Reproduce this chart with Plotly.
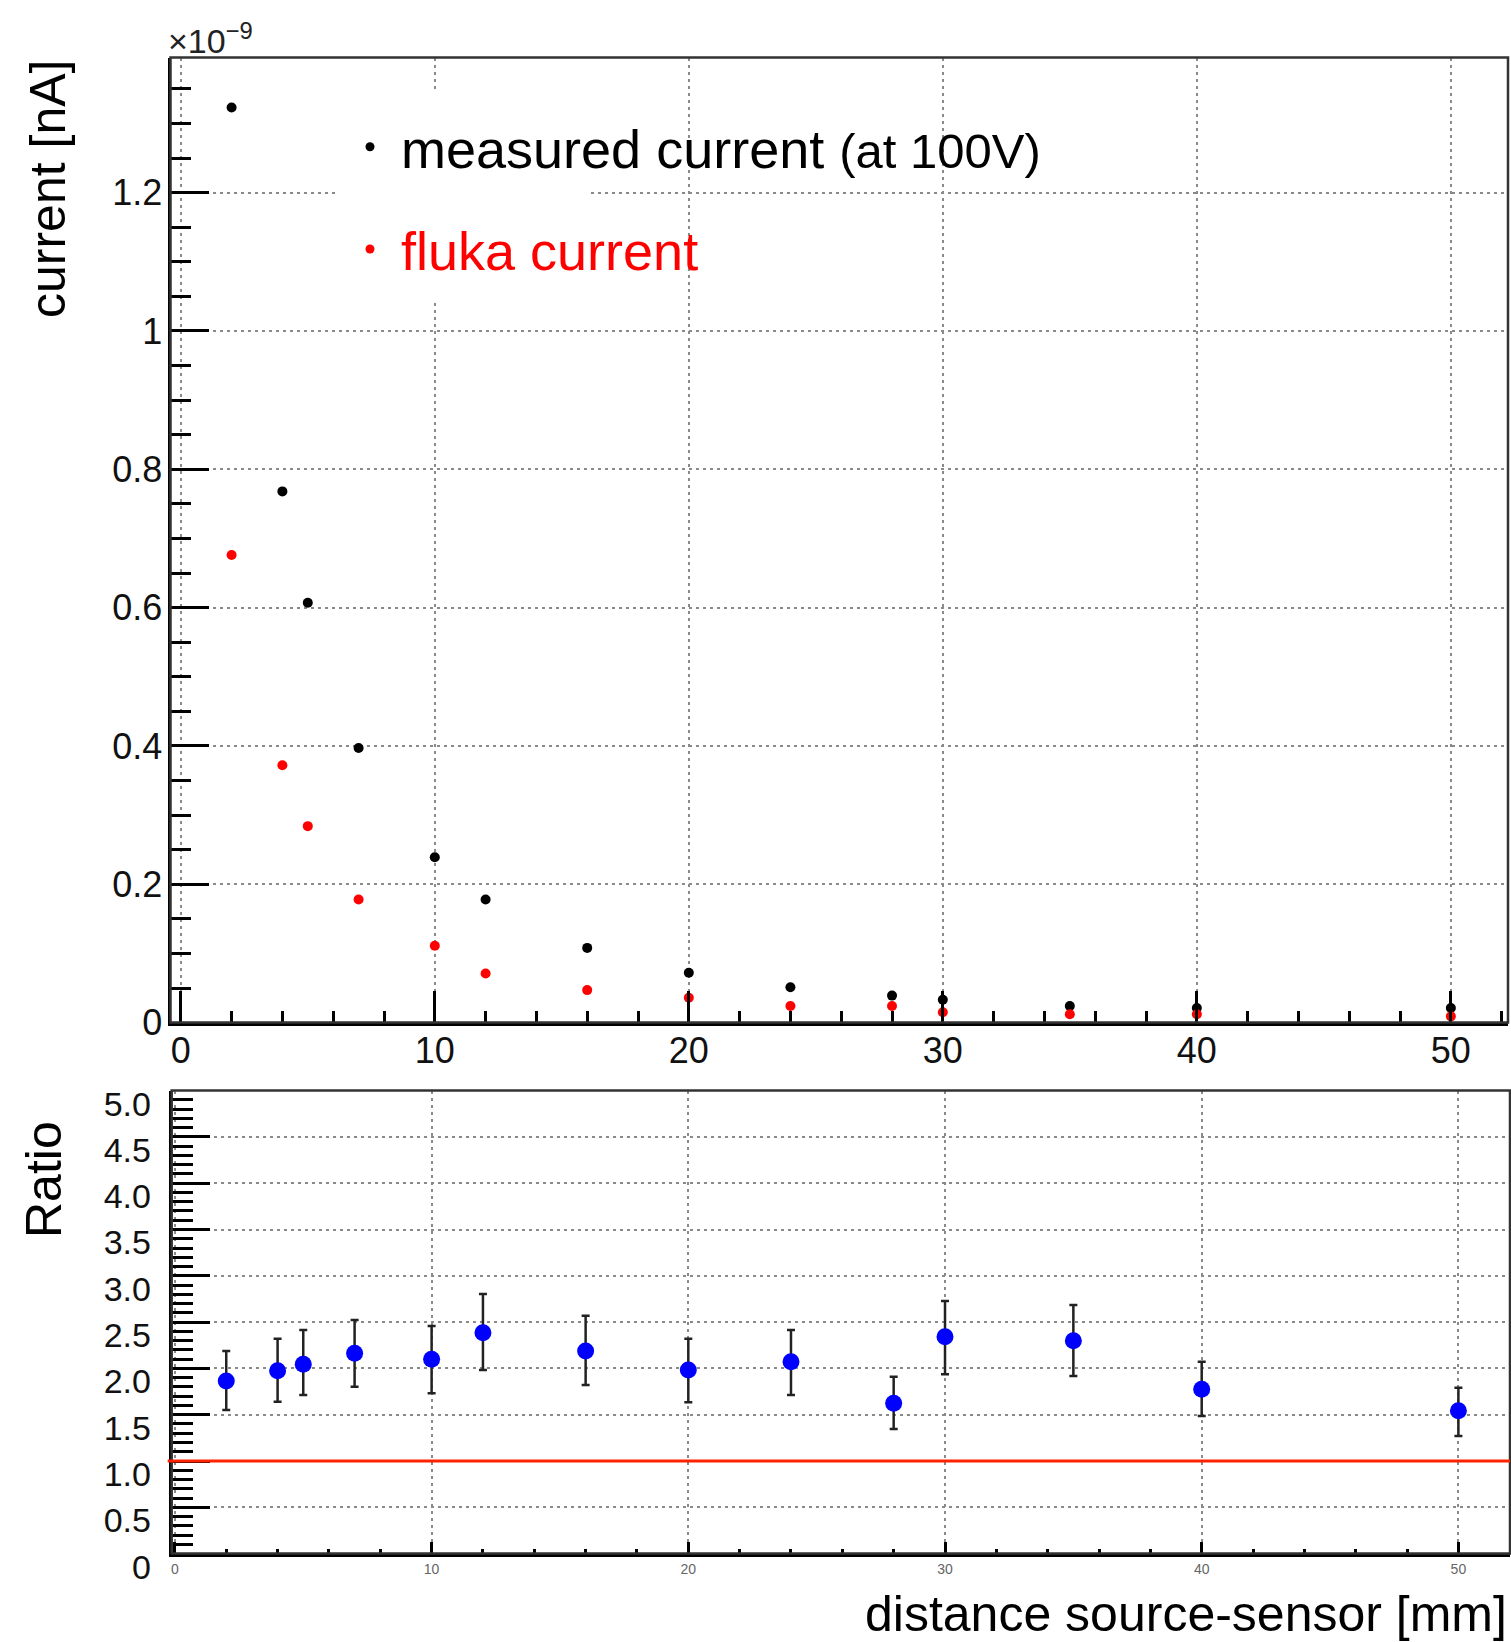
import plotly.graph_objects as go

# ---------------------------------------------------------------- data
distance_mm = [2, 4, 5, 7, 10, 12, 16, 20, 24, 28, 30, 35, 40, 50]

# currents in units of 1e-9
measured_current = [1.323, 0.768, 0.607, 0.397, 0.239, 0.178, 0.108,
                    0.072, 0.051, 0.039, 0.033, 0.024, 0.021, 0.021]
fluka_current = [0.676, 0.372, 0.284, 0.178, 0.111, 0.071, 0.047,
                 0.036, 0.024, 0.024, 0.015, 0.012, 0.012, 0.009]

# measured / fluka ratio with asymmetric uncertainties
ratio = [1.864, 1.975, 2.044, 2.163, 2.098, 2.386, 2.188,
         1.983, 2.073, 1.623, 2.343, 2.299, 1.774, 1.543]
ratio_err_up = [0.324, 0.346, 0.371, 0.360, 0.360, 0.417, 0.381,
                0.338, 0.342, 0.287, 0.385, 0.386, 0.299, 0.249]
ratio_err_down = [0.313, 0.334, 0.331, 0.360, 0.367, 0.403, 0.367,
                  0.349, 0.360, 0.278, 0.407, 0.381, 0.288, 0.273]

ratio_tick_vals = [0, 0.5, 1.0, 1.5, 2.0, 2.5, 3.0, 3.5, 4.0, 4.5, 5.0]
ratio_tick_text = ["0", "0.5", "1.0", "1.5", "2.0", "2.5", "3.0",
                   "3.5", "4.0", "4.5", "5.0"]

# ---------------------------------------------------------------- layout helpers
W, H = 1511, 1642
FONT = "Liberation Sans, Arial, Helvetica, sans-serif"


def px(xp):
    return xp / W


def py(yp):
    return 1 - yp / H


# panel frames in pixels
TOP_L, TOP_R, TOP_T, TOP_B = 170.5, 1508.0, 57.5, 1022.6
BOT_L, BOT_R, BOT_T, BOT_B = 171.7, 1510.0, 1090.6, 1553.6

GRID = dict(showgrid=True, gridcolor="#8a8a8a", gridwidth=2,
            griddash="3px,4px", automargin=False)

fig = go.Figure()

fig.add_trace(go.Scatter(
    x=distance_mm, y=measured_current, mode="markers", name="measured current",
    marker=dict(color="black", size=10), xaxis="x", yaxis="y"))
fig.add_trace(go.Scatter(
    x=distance_mm, y=fluka_current, mode="markers", name="fluka current",
    marker=dict(color="#ff0000", size=10), xaxis="x", yaxis="y"))
fig.add_trace(go.Scatter(
    x=distance_mm, y=ratio, mode="markers", name="ratio",
    marker=dict(color="#0000ff", size=17),
    error_y=dict(type="data", symmetric=False, array=ratio_err_up,
                 arrayminus=ratio_err_down, color="#222222",
                 thickness=2.5, width=4),
    xaxis="x2", yaxis="y2"))

fig.update_layout(
    width=W, height=H,
    margin=dict(l=0, r=0, t=0, b=0, autoexpand=False),
    paper_bgcolor="white", plot_bgcolor="white",
    showlegend=False,
    font=dict(family=FONT, color="black"),
    xaxis=dict(
        domain=[px(TOP_L), px(TOP_R)], range=[-0.405, 52.25], anchor="y",
        showline=True, linecolor="black", linewidth=3,
        ticks="inside", ticklen=32, tickwidth=2.5, tickcolor="black",
        tick0=0, dtick=10, zeroline=False,
        minor=dict(dtick=2, ticks="inside", ticklen=12, tickwidth=2.5,
                   tickcolor="black", showgrid=False),
        tickfont=dict(size=36, color="#111"), ticklabelstandoff=-6,
        **GRID),
    yaxis=dict(
        domain=[py(TOP_B), py(TOP_T)], range=[0, 1.3953], anchor="x",
        showline=True, linecolor="black", linewidth=3,
        ticks="inside", ticklen=38, tickwidth=2.5, tickcolor="black",
        tick0=0, dtick=0.2, zeroline=False,
        minor=dict(dtick=0.05, ticks="inside", ticklen=20, tickwidth=2.5,
                   tickcolor="black", showgrid=False),
        tickfont=dict(size=36, color="#111"), ticklabelstandoff=-2,
        **GRID),
    xaxis2=dict(
        domain=[px(BOT_L), px(BOT_R)], range=[-0.125, 52.01], anchor="y2",
        showline=True, linecolor="black", linewidth=3,
        ticks="inside", ticklen=12, tickwidth=2.5, tickcolor="black",
        tick0=0, dtick=10, zeroline=False,
        minor=dict(dtick=2, ticks="inside", ticklen=5, tickwidth=2.5,
                   tickcolor="black", showgrid=False),
        tickfont=dict(size=14, color="#666"), ticklabelstandoff=1,
        **GRID),
    yaxis2=dict(
        domain=[py(BOT_B), py(BOT_T)], range=[0, 5], anchor="x2",
        showline=True, linecolor="black", linewidth=3,
        ticks="inside", ticklen=38, tickwidth=2.5, tickcolor="black",
        tickvals=ratio_tick_vals, ticktext=ratio_tick_text, zeroline=False,
        minor=dict(dtick=0.1, ticks="inside", ticklen=21, tickwidth=2.5,
                   tickcolor="black", showgrid=False),
        tickfont=dict(size=34, color="#111"), ticklabelstandoff=11,
        ticklabelshift=13,
        **GRID),
)

# frames around both pads
for xr, yr in (("x domain", "y domain"), ("x2 domain", "y2 domain")):
    fig.add_shape(type="rect", xref=xr, yref=yr, x0=0, x1=1, y0=0, y1=1,
                  line=dict(color="#333", width=2.5), layer="above")

# ratio = 1 reference line
fig.add_shape(type="line", xref="x2 domain", yref="y2", x0=-0.003, x1=1,
              y0=1, y1=1, line=dict(color="#ff2200", width=3), layer="above")


# legend pad (opaque box hiding the grid behind it)
def dom_x(xp):
    return (xp - TOP_L) / (TOP_R - TOP_L)


def dom_y(yp):
    return (TOP_B - yp) / (TOP_B - TOP_T)


fig.add_shape(type="rect", xref="x domain", yref="y domain",
              x0=dom_x(336), x1=dom_x(588), y0=dom_y(303), y1=dom_y(90),
              fillcolor="white", line=dict(width=0), layer="above")

for cy, col in ((146.7, "black"), (249.0, "#ff0000")):
    r = 4.5
    fig.add_shape(type="circle", xref="x domain", yref="y domain",
                  x0=dom_x(370 - r), x1=dom_x(370 + r),
                  y0=dom_y(cy + r), y1=dom_y(cy - r),
                  fillcolor=col, line=dict(width=0), layer="above")

fig.add_annotation(
    text="measured current <span style='font-size:49px'>(at 100V)</span>",
    xref="paper", yref="paper", x=px(399), y=py(149), xanchor="left",
    yanchor="middle", showarrow=False, font=dict(size=54, color="black"))
fig.add_annotation(
    text="fluka current", xref="paper", yref="paper", x=px(399), y=py(251),
    xanchor="left", yanchor="middle", showarrow=False,
    font=dict(size=54, color="#ff0000"))

# exponent of the current axis
fig.add_annotation(
    text="\u00d710<sup>\u22129</sup>", xref="paper", yref="paper",
    x=px(166), y=py(38), xanchor="left", yanchor="middle", showarrow=False,
    font=dict(size=34, color="#222"))

# axis titles
fig.add_annotation(
    text="current [nA]", xref="paper", yref="paper", x=px(48), y=py(189),
    xanchor="center", yanchor="middle", textangle=-90, showarrow=False,
    font=dict(size=50, color="black"))
fig.add_annotation(
    text="Ratio", xref="paper", yref="paper", x=px(44), y=py(1180),
    xanchor="center", yanchor="middle", textangle=-90, showarrow=False,
    font=dict(size=50, color="black"))
fig.add_annotation(
    text="distance source-sensor [mm]", xref="paper", yref="paper",
    x=px(1509), y=py(1614), xanchor="right", yanchor="middle",
    showarrow=False, font=dict(size=50, color="black"))

fig.write_html("out.html")
